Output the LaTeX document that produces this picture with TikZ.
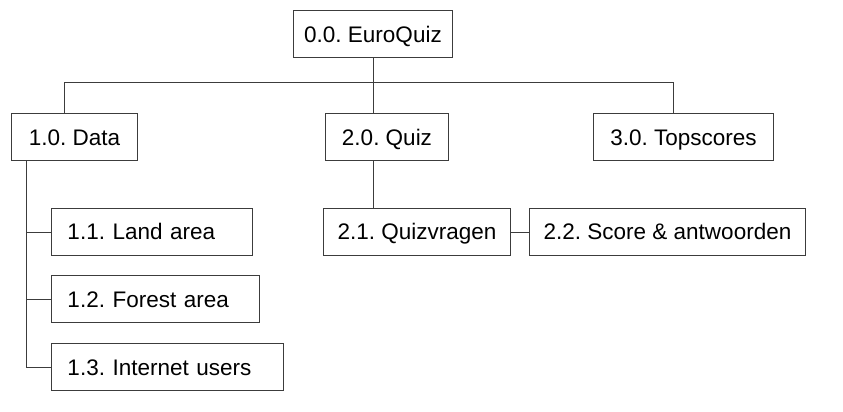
\documentclass[tikz,border=0pt]{standalone}
\usepackage{fontspec}
\setmainfont{Liberation Sans}
\usetikzlibrary{positioning,calc}
\definecolor{lijn}{RGB}{60,60,60}
\frenchspacing

\tikzset{
  blok/.style={draw=lijn,line width=0.5pt,anchor=north west,inner sep=0pt,
    minimum height=23.5pt,text height=8pt,text depth=0pt,
    font=\fontsize{11.25}{13}\selectfont},
  deelblok/.style={blok,inner xsep=8pt,text width=#1,align=left},
  verbinding/.style={draw=lijn,line width=0.5pt}
}

\begin{document}
\begin{tikzpicture}[x=0.5pt,y=-0.5pt]
        \useasboundingbox (0,0) rectangle (843,412);
        % niveau 0 en 1
        \node[blok,minimum width=79.5pt] (euroquiz) at (293,10) {0.0. EuroQuiz};
        \node[blok,minimum width=63pt] (data) at (11,113) {1.0. Data};
        \node[blok,minimum width=61.5pt] (quiz) at (325,113) {2.0. Quiz};
        \node[blok,minimum width=90pt] (topscores) at (593,113) {3.0. Topscores};
        % onderdelen van data
        \foreach \naam/\tekst/\y/\w in {land/1.1. Land area/208/84.5pt,forest/1.2. Forest area/275/88pt,internet/1.3. Internet users/343/100pt}{
          \node[deelblok=\w] (\naam) at (51,\y) {\tekst};
        }
        % onderdelen van quiz
        \node[blok,minimum width=93.5pt] (vragen) at (323,208) {2.1. Quizvragen};
        \node[blok,minimum width=138pt] (score) at (529,208) {2.2. Score \& antwoorden};
        % verbindingen
        \coordinate (busL) at (64,82);
        \coordinate (busR) at (673,82);
        \coordinate (stam) at (26,0);
        \draw[verbinding] (busL) -- (busR);
        \draw[verbinding] (euroquiz.south) -- (euroquiz.south |- quiz.north);
        \draw[verbinding] (busL) -- (busL |- data.north);
        \draw[verbinding] (busR) -- (busR |- topscores.north);
        \draw[verbinding] (stam |- data.south) |- (internet.west);
        \draw[verbinding] (stam |- land.west) -- (land.west);
        \draw[verbinding] (stam |- forest.west) -- (forest.west);
        \draw[verbinding] (euroquiz.south |- quiz.south) -- (euroquiz.south |- vragen.north);
        \draw[verbinding] (vragen.east) -- (score.west);
      \end{tikzpicture}
\end{document}
